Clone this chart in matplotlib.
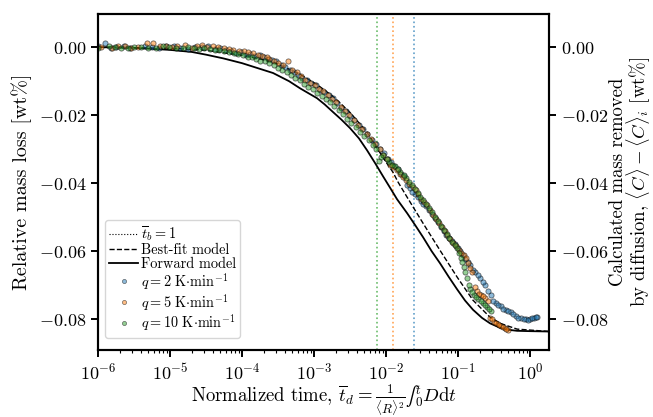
import matplotlib
matplotlib.use("Agg")
import matplotlib.pyplot as plt
from matplotlib.colors import to_rgba
from matplotlib.lines import Line2D
from matplotlib.ticker import FormatStrFormatter

plt.rcParams["font.family"] = "serif"
plt.rcParams["font.serif"] = ["cmr10"]
plt.rcParams["mathtext.fontset"] = "cm"
plt.rcParams["axes.formatter.use_mathtext"] = True

# forward model (solid) and best-fit model (dashed)
fwd_t = [1.0e-6, 3.16e-6, 1.0e-5, 2.0e-5, 3.16e-5, 5.5e-5, 1.0e-4, 2.7e-4, 4.5e-4,
         6.4e-4, 1.1e-3, 1.4e-3, 1.84e-3, 2.4e-3, 3.16e-3, 4.2e-3, 5.44e-3, 7.1e-3,
         9.1e-3, 1.15e-2, 1.42e-2, 1.96e-2, 2.55e-2, 3.27e-2, 4.3e-2, 5.6e-2, 7.4e-2,
         9.7e-2, 0.125, 0.161, 0.215, 0.278, 0.383, 0.5, 0.66, 1.0, 1.84]
fwd_v = [0.0, -0.0002, -0.0008, -0.0014, -0.0022, -0.0033, -0.0047, -0.0076, -0.0100,
         -0.0121, -0.0150, -0.0168, -0.0191, -0.0213, -0.0238, -0.0268, -0.0303, -0.0342,
         -0.0380, -0.0415, -0.0447, -0.0488, -0.0524, -0.0559, -0.0600, -0.0635, -0.0675,
         -0.0712, -0.0745, -0.0772, -0.0796, -0.0812, -0.0825, -0.0831, -0.0834, -0.0835, -0.0836]

fit_t = [1.0e-6, 1.0e-5, 3.16e-5, 1.0e-4, 2.7e-4, 6.4e-4, 1.1e-3, 1.84e-3, 3.16e-3,
         5.44e-3, 9.1e-3, 1.25e-2, 1.47e-2, 1.96e-2, 3.27e-2, 5.6e-2, 9.7e-2, 0.161,
         0.278, 0.383, 0.66, 1.84]
fit_v = [0.0, -0.0003, -0.0009, -0.0024, -0.0043, -0.0080, -0.0110, -0.0145, -0.0192,
         -0.0250, -0.0325, -0.0368, -0.0397, -0.0441, -0.0518, -0.0597, -0.0676, -0.0744,
         -0.0794, -0.0812, -0.0829, -0.0836]

# measured data, q = 2 K/min
q2_t = [1.0e-6, 1.26e-6, 1.78e-6, 2.82e-6, 4.47e-6, 7.08e-6, 1.12e-5, 1.78e-5, 2.82e-5,
        4.17e-5, 6.03e-5, 8.32e-5, 1.12e-4, 1.51e-4, 2.0e-4, 2.63e-4, 3.47e-4, 4.57e-4,
        6.03e-4, 7.94e-4, 1.05e-3, 1.38e-3, 1.82e-3, 2.40e-3, 3.16e-3, 4.17e-3, 5.50e-3,
        7.24e-3, 9.33e-3, 1.17e-2, 1.45e-2, 1.78e-2, 2.14e-2, 2.51e-2, 3.02e-2, 3.63e-2,
        4.37e-2, 5.25e-2, 6.31e-2, 7.59e-2, 9.12e-2, 0.107, 0.126, 0.148, 0.174, 0.204,
        0.240, 0.282, 0.331, 0.389, 0.457, 0.537, 0.631, 0.741, 0.871, 1.0, 1.12, 1.26,
        1.5e-6, 2.3e-6, 5.6e-6, 8.9e-6, 1.4e-5, 2.2e-5, 3.4e-5, 5.0e-5, 7.0e-5, 9.7e-5,
        1.3e-4, 1.75e-4, 2.3e-4, 3.0e-4, 4.0e-4, 5.2e-4, 6.9e-4, 9.2e-4, 1.2e-3, 1.6e-3,
        2.1e-3, 2.75e-3, 3.6e-3, 4.8e-3, 6.3e-3, 8.3e-3, 1.05e-2, 1.3e-2, 1.6e-2, 1.95e-2,
        2.3e-2, 2.75e-2, 3.3e-2, 4.0e-2, 4.8e-2, 5.75e-2, 6.9e-2, 8.3e-2, 0.099, 0.116,
        0.137, 0.161, 0.19, 0.22, 0.26, 0.305, 0.36, 0.42, 0.50, 0.58, 0.69, 0.81, 0.93,
        1.06, 1.19]
q2_v = [0.0003, 0.0012, 0.0001, -0.0002, 0.0003, -0.0001, 0.0002, -0.0004, 0.0001,
        -0.0006, -0.0009, -0.0016, -0.0022, -0.0027, -0.0030, -0.0038, -0.0052, -0.0068,
        -0.0082, -0.0098, -0.0112, -0.0132, -0.0150, -0.0178, -0.0202, -0.0228, -0.0255,
        -0.0285, -0.0312, -0.0338, -0.0358, -0.0380, -0.0415, -0.0432, -0.0452, -0.0468,
        -0.0490, -0.0515, -0.0540, -0.0560, -0.0578, -0.0598, -0.0622, -0.0640, -0.0662, -0.0678,
        -0.0700, -0.0728, -0.0752, -0.0762, -0.0772, -0.0780, -0.0790, -0.0797, -0.0800, -0.0799,
        -0.0796, -0.0793,
        -0.0001, 0.0004, 0.0000, 0.0002, -0.0002, 0.0001, 0.0003, -0.0002, -0.0010, -0.0015,
        -0.0020, -0.0024, -0.0036, -0.0041, -0.0058, -0.0072, -0.0092, -0.0104, -0.0126, -0.0140,
        -0.0165, -0.0188, -0.0215, -0.0240, -0.0272, -0.0300, -0.0330, -0.0348, -0.0372, -0.0405,
        -0.0425, -0.0440, -0.0462, -0.0478, -0.0502, -0.0530, -0.0552, -0.0570, -0.0590, -0.0612,
        -0.0632, -0.0655, -0.0670, -0.0690, -0.0718, -0.0745, -0.0758, -0.0770, -0.0777, -0.0786,
        -0.0795, -0.0798, -0.0801, -0.0797, -0.0792]

# q = 5 K/min
q5_t = [1.12e-6, 1.58e-6, 2.40e-6, 3.55e-6, 4.79e-6, 5.75e-6, 8.91e-6, 1.26e-5, 2.0e-5,
        2.82e-5, 3.98e-5, 5.62e-5, 7.59e-5, 1.05e-4, 1.41e-4, 1.91e-4, 2.40e-4, 3.16e-4,
        4.37e-4, 5.01e-4, 6.61e-4, 8.91e-4, 1.17e-3, 1.55e-3, 2.04e-3, 2.69e-3, 3.55e-3,
        4.68e-3, 6.17e-3, 8.13e-3, 1.02e-2, 1.26e-2, 1.55e-2, 1.91e-2, 2.34e-2, 2.82e-2,
        3.39e-2, 4.07e-2, 4.90e-2, 5.89e-2, 7.08e-2, 8.51e-2, 0.102, 0.120, 0.138, 0.158,
        0.182, 0.209, 0.240, 0.275, 0.316, 0.355, 0.398, 0.447, 0.501,
        1.9e-6, 2.9e-6, 7.2e-6, 1.05e-5, 1.6e-5, 2.4e-5, 3.3e-5, 4.7e-5, 6.5e-5, 9.0e-5,
        1.22e-4, 1.65e-4, 2.2e-4, 2.8e-4, 3.7e-4, 5.8e-4, 7.6e-4, 1.02e-3, 1.35e-3, 1.8e-3,
        2.35e-3, 3.1e-3, 4.1e-3, 5.4e-3, 7.1e-3, 9.1e-3, 1.14e-2, 1.4e-2, 1.72e-2, 2.1e-2,
        2.58e-2, 3.1e-2, 3.7e-2, 4.5e-2, 5.4e-2, 6.5e-2, 7.8e-2, 9.3e-2, 0.111, 0.129,
        0.148, 0.17, 0.195, 0.225, 0.258, 0.295, 0.335, 0.375, 0.42, 0.47]
q5_v = [0.0001, -0.0001, 0.0003, 0.0000, 0.0011, 0.0012, 0.0002, 0.0004, -0.0001,
        0.0005, 0.0002, -0.0003, -0.0007, -0.0012, -0.0018, -0.0026, -0.0034, -0.0046,
        -0.0041, -0.0068, -0.0086, -0.0104, -0.0122, -0.0140, -0.0162, -0.0188, -0.0214,
        -0.0240, -0.0270, -0.0300, -0.0330, -0.0352, -0.0372, -0.0392, -0.0412, -0.0432,
        -0.0455, -0.0478, -0.0505, -0.0530, -0.0552, -0.0575, -0.0595, -0.0612, -0.0635, -0.0660,
        -0.0718, -0.0728, -0.0738, -0.0795, -0.0808, -0.0815, -0.0820, -0.0826, -0.0831,
        0.0002, -0.0001, 0.0003, 0.0000, 0.0006, 0.0002, 0.0001, 0.0000, -0.0005, -0.0010,
        -0.0014, -0.0022, -0.0030, -0.0040, -0.0052, -0.0074, -0.0096, -0.0112, -0.0130, -0.0152,
        -0.0176, -0.0200, -0.0228, -0.0255, -0.0286, -0.0318, -0.0345, -0.0362, -0.0382, -0.0402,
        -0.0420, -0.0445, -0.0465, -0.0492, -0.0518, -0.0540, -0.0565, -0.0585, -0.0605, -0.0620,
        -0.0648, -0.0705, -0.0725, -0.0732, -0.0745, -0.0800, -0.0812, -0.0818, -0.0824, -0.0828]

# q = 10 K/min
q10_t = [1.0e-6, 1.41e-6, 2.09e-6, 3.16e-6, 5.01e-6, 7.94e-6, 1.20e-5, 1.78e-5, 2.51e-5,
         3.55e-5, 4.79e-5, 6.61e-5, 8.91e-5, 1.20e-4, 1.58e-4, 2.09e-4, 2.75e-4, 3.63e-4,
         4.79e-4, 6.31e-4, 8.32e-4, 1.10e-3, 1.45e-3, 1.91e-3, 2.51e-3, 3.31e-3, 4.37e-3,
         5.75e-3, 7.24e-3, 7.94e-3, 9.12e-3, 1.10e-2, 1.32e-2, 1.58e-2, 1.91e-2, 2.29e-2,
         2.75e-2, 3.31e-2, 3.98e-2, 4.79e-2, 5.75e-2, 6.92e-2, 8.32e-2, 9.77e-2, 0.110, 0.120,
         0.132, 0.148, 0.166, 0.191, 0.219, 0.251, 0.282,
         1.7e-6, 2.6e-6, 4.0e-6, 6.3e-6, 9.8e-6, 1.5e-5, 2.15e-5, 3.0e-5, 4.2e-5, 5.7e-5,
         7.7e-5, 1.04e-4, 1.38e-4, 1.8e-4, 2.4e-4, 3.15e-4, 4.2e-4, 5.5e-4, 7.2e-4, 9.6e-4,
         1.27e-3, 1.67e-3, 2.2e-3, 2.9e-3, 3.8e-3, 5.0e-3, 6.5e-3, 8.5e-3, 1.02e-2, 1.2e-2,
         1.45e-2, 1.75e-2, 2.1e-2, 2.5e-2, 3.0e-2, 3.6e-2, 4.4e-2, 5.25e-2, 6.3e-2, 7.6e-2,
         9.0e-2, 0.104, 0.115, 0.126, 0.14, 0.157, 0.178, 0.205, 0.235, 0.267]
q10_v = [-0.0001, 0.0002, -0.0002, 0.0001, -0.0001, 0.0002, -0.0003, 0.0000, -0.0004,
         -0.0006, -0.0009, -0.0014, -0.0020, -0.0028, -0.0034, -0.0042, -0.0052, -0.0066,
         -0.0082, -0.0098, -0.0116, -0.0134, -0.0152, -0.0172, -0.0196, -0.0222, -0.0248,
         -0.0272, -0.0300, -0.0335, -0.0318, -0.0338, -0.0350, -0.0368, -0.0385, -0.0405,
         -0.0428, -0.0450, -0.0472, -0.0498, -0.0525, -0.0550, -0.0572, -0.0590, -0.0620, -0.0645,
         -0.0680, -0.0712, -0.0728, -0.0740, -0.0752, -0.0765, -0.0775,
         0.0000, -0.0001, 0.0001, -0.0002, 0.0000, -0.0003, -0.0001, -0.0002, -0.0007, -0.0011,
         -0.0018, -0.0024, -0.0030, -0.0040, -0.0046, -0.0060, -0.0074, -0.0090, -0.0108, -0.0124,
         -0.0144, -0.0162, -0.0184, -0.0210, -0.0236, -0.0262, -0.0288, -0.0322, -0.0330, -0.0345,
         -0.0358, -0.0376, -0.0395, -0.0418, -0.0440, -0.0460, -0.0485, -0.0512, -0.0538, -0.0562,
         -0.0582, -0.0605, -0.0632, -0.0662, -0.0700, -0.0720, -0.0735, -0.0746, -0.0758, -0.0770]

# t_b = 1 positions for each heating rate
tb_pos = [0.0245, 0.0125, 0.0075]
rates = ["2", "5", "10"]
colors = ["tab:blue", "tab:orange", "tab:green"]

fig = plt.figure(figsize=(6.53, 4.17), dpi=100)
ax = fig.add_axes([0.150, 0.161, 0.691, 0.805])

for pos, c in zip(tb_pos, colors):
    ax.axvline(pos, color=c, ls=":", lw=1.2, alpha=0.7)

ax.plot(fit_t, fit_v, "k--", lw=1.0)
ax.plot(fwd_t, fwd_v, "k-", lw=1.3)

for tt, vv, c in zip([q2_t, q5_t, q10_t], [q2_v, q5_v, q10_v], colors):
    ax.scatter(tt, vv, s=14, facecolor=to_rgba(c, 0.5), edgecolor=(0, 0, 0, 0.55),
               linewidth=0.6, zorder=3)

ax.set_xscale("log")
ax.set_xlim(1e-6, 1.84)
ax.set_ylim(-0.089, 0.0097)
yt = [-0.08, -0.06, -0.04, -0.02, 0.0]
ax.set_yticks(yt)
ax.yaxis.set_major_formatter(FormatStrFormatter(r"$%.2f$"))
ax.tick_params(axis="both", which="major", labelsize=13, width=1.4, length=5, direction="out")
ax.tick_params(axis="x", which="minor", width=0.8, length=2.5)
for s in ax.spines.values():
    s.set_linewidth(1.5)

ax.set_ylabel("Relative mass loss [wt%]", fontsize=14.5, labelpad=5)
ax.set_xlabel("Normalized time, $\\overline{t}_d = \\frac{1}{\\langle R\\rangle^2}\u222b_0^t D\\mathrm{d}t$",
              fontsize=13.5, labelpad=0)

ax2 = ax.twinx()
ax2.set_ylim(ax.get_ylim())
ax2.set_yticks(yt)
ax2.yaxis.set_major_formatter(FormatStrFormatter(r"$%.2f$"))
ax2.tick_params(axis="y", labelsize=13, width=1.4, length=5, direction="out")
for s in ax2.spines.values():
    s.set_linewidth(1.5)
ax2.set_ylabel("Calculated mass removed\n" + r"by diffusion, $\langle C\rangle - \langle C\rangle_i$ [wt%]",
               fontsize=13.5, labelpad=0, linespacing=0.95)

# legend
handles = [Line2D([], [], color="k", ls=":", lw=0.8),
           Line2D([], [], color="k", ls="--", lw=1.0),
           Line2D([], [], color="k", ls="-", lw=1.3)]
labels = [r"$\overline{t}_b = 1$", "Best-fit model", "Forward model"]
for r, c in zip(rates, colors):
    handles.append(Line2D([], [], ls="", marker="o", ms=3, mfc=to_rgba(c, 0.5),
                          mec=(0, 0, 0, 0.55), mew=0.5))
    labels.append(r"$q = %s\ \mathrm{K{\cdot}min^{-1}}$" % r)
ax.legend(handles, labels, loc="lower left", bbox_to_anchor=(0.0155, 0.036),
          fontsize=10.3, handlelength=2.0, handletextpad=0.2, labelspacing=0.0,
          borderpad=0.3, borderaxespad=0.0, fancybox=True, framealpha=0.8)

fig.savefig("out.png", dpi=100)
